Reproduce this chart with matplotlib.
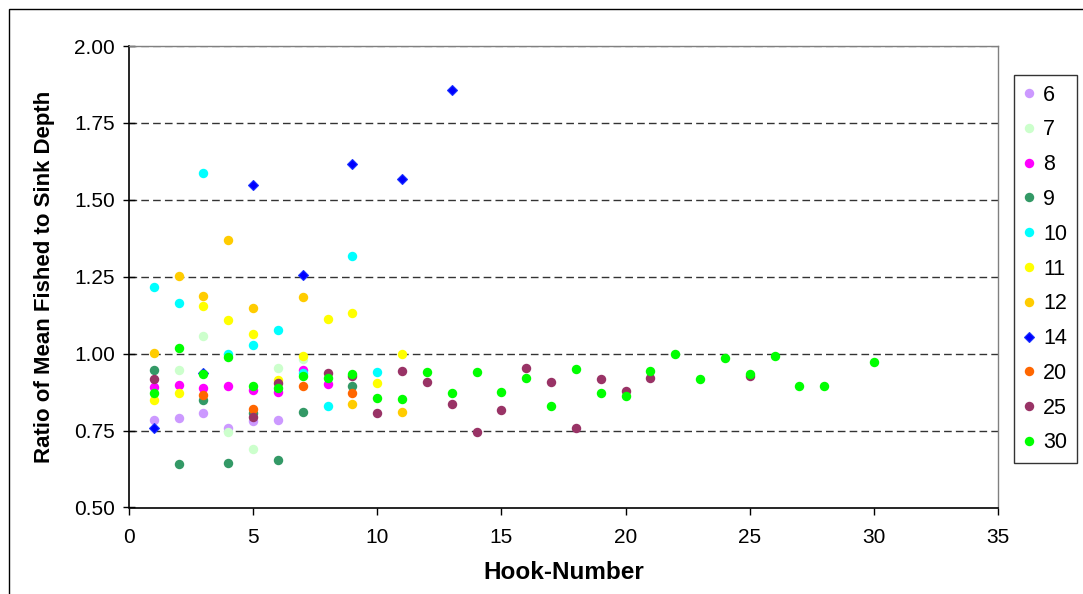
import numpy as np
import matplotlib
matplotlib.use("Agg")
import matplotlib.pyplot as plt
from matplotlib.patches import Rectangle

plt.rcParams['font.family'] = ['Liberation Sans', 'DejaVu Sans']

series_names = ["6", "7", "8", "9", "10", "11", "12", "14", "20", "25", "30"]

x6 = [1, 2, 3, 4, 5, 6]
y6 = [0.783, 0.790, 0.806, 0.758, 0.780, 0.783]
x7 = [2, 3, 4, 5, 6, 7]
y7 = [0.947, 1.057, 0.747, 0.690, 0.952, 0.982]
x8 = [1, 2, 3, 4, 5, 6, 7, 8]
y8 = [0.893, 0.898, 0.888, 0.896, 0.882, 0.877, 0.946, 0.902]
x9 = [1, 2, 3, 4, 5, 6, 7, 9]
y9 = [0.947, 0.641, 0.850, 0.646, 0.808, 0.655, 0.812, 0.896]
x10 = [1, 2, 3, 4, 5, 6, 7, 8, 9, 10]
y10 = [1.218, 1.165, 1.586, 0.999, 1.027, 1.077, 0.936, 0.831, 1.319, 0.942]
x11 = [1, 2, 3, 4, 5, 6, 7, 8, 9, 10, 11]
y11 = [0.850, 0.871, 1.154, 1.109, 1.063, 0.915, 0.993, 1.113, 1.133, 0.906, 0.998]
x12 = [1, 2, 3, 4, 5, 7, 9, 11]
y12 = [1.001, 1.252, 1.187, 1.369, 1.147, 1.183, 0.836, 0.812]
x14 = [1, 3, 5, 7, 9, 11, 13]
y14 = [0.757, 0.938, 1.548, 1.256, 1.618, 1.568, 1.858]
x20 = [3, 5, 7, 9]
y20 = [0.866, 0.821, 0.896, 0.871]
x25 = [1, 5, 6, 8, 9, 10, 11, 12, 13, 14, 15, 16, 17, 18, 19, 20, 21, 25]
y25 = [0.917, 0.795, 0.906, 0.936, 0.928, 0.806, 0.943, 0.907, 0.837, 0.746,
       0.817, 0.953, 0.907, 0.757, 0.917, 0.878, 0.922, 0.928]
x30 = [1, 2, 3, 4, 5, 6, 7, 8, 9, 10, 11, 12, 13, 14, 15, 16, 17, 18, 19, 20,
       21, 22, 23, 24, 25, 26, 27, 28, 30]
y30 = [0.871, 1.018, 0.933, 0.988, 0.896, 0.890, 0.928, 0.922, 0.933, 0.856,
       0.852, 0.942, 0.871, 0.942, 0.877, 0.922, 0.831, 0.951, 0.871, 0.862,
       0.944, 0.998, 0.917, 0.987, 0.933, 0.993, 0.896, 0.896, 0.972]

xs = [x6, x7, x8, x9, x10, x11, x12, x14, x20, x25, x30]
ys = [y6, y7, y8, y9, y10, y11, y12, y14, y20, y25, y30]
colors = ["#CC99FF", "#CCFFCC", "#FF00FF", "#339966", "#00FFFF", "#FFFF00",
          "#FFCC00", "#0000FF", "#FF6600", "#993366", "#00FF00"]

xticks = [0, 5, 10, 15, 20, 25, 30, 35]
yticks = [0.50, 0.75, 1.00, 1.25, 1.50, 1.75, 2.00]

W, H = 1083, 594
fig = plt.figure(figsize=(W / 100, H / 100), dpi=100)
ax = fig.add_axes([129 / W, 1 - 507.5 / H, (998 - 129) / W, (507.5 - 46) / H])

for x, y, c, name in zip(xs, ys, colors, series_names):
    if name == "14":
        ax.plot(x, y, linestyle='none', marker='D', markersize=5.6, color=c,
                markeredgecolor="#1a33ff", markeredgewidth=0.8, label=name, zorder=3)
    else:
        ax.plot(x, y, linestyle='none', marker='o', markersize=6.8, color=c,
                markeredgewidth=0, label=name, zorder=3)

ax.set_xlim(0, 35)
ax.set_ylim(0.5, 2.0)
ax.set_xticks(xticks)
ax.set_yticks(yticks)
ax.set_xticklabels([str(t) for t in xticks])
ax.set_yticklabels([f"{t:.2f}" for t in yticks])
ax.tick_params(axis='x', direction='out', length=5, width=1, labelsize=15, pad=10)
ax.tick_params(axis='y', direction='inout', length=8, width=1, labelsize=15, pad=6)

for t in yticks[1:]:
    ax.axhline(t, color='#333333' if t < 2.0 else '#808080', linewidth=1.0,
               linestyle=(0, (5.5, 3)), zorder=1)

for s in ['left', 'bottom']:
    ax.spines[s].set_color('black')
    ax.spines[s].set_linewidth(1.2)
ax.spines['top'].set_color('#808080')
ax.spines['right'].set_color('#808080')
ax.spines['top'].set_linewidth(1.0)
ax.spines['right'].set_linewidth(1.0)

ax.set_xlabel("Hook-Number", fontsize=17.5, fontweight='bold', labelpad=10)
ax.set_ylabel("Ratio of Mean Fished to Sink Depth", fontsize=16, fontweight='bold', labelpad=14)

leg = fig.legend(loc='upper left', bbox_to_anchor=(1014 / W, 1 - 75 / H),
                 bbox_transform=fig.transFigure, fontsize=15.5, frameon=True,
                 fancybox=False, edgecolor='black', handlelength=0.45,
                 handletextpad=0.45, labelspacing=0.64, borderpad=0.45,
                 borderaxespad=0)
leg.get_frame().set_linewidth(1.0)

fig.add_artist(Rectangle((9 / W, -0.05), 1.2, 1 - 9 / H + 0.05, transform=fig.transFigure,
                         fill=False, edgecolor='black', linewidth=1.0, clip_on=False))

fig.savefig("out.png", dpi=100)
